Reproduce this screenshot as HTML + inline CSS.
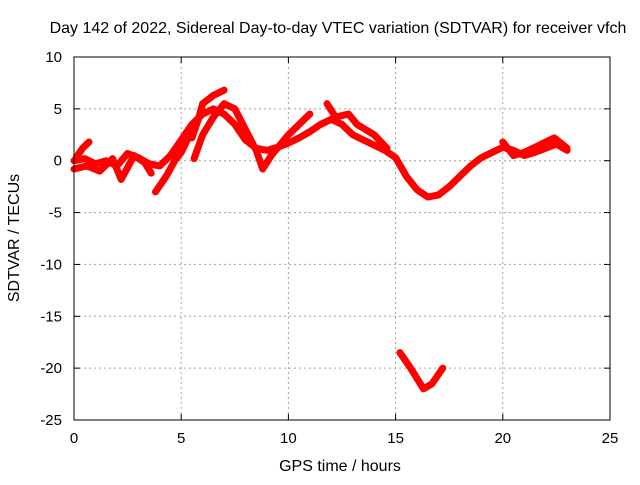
<!DOCTYPE html>
<html><head><meta charset="utf-8"><style>
body{margin:0;background:#fff}
svg text{font-family:"Liberation Sans",sans-serif;font-size:16px;fill:#000}
svg text.tick{font-size:15px}
</style></head><body>
<svg id="chart" width="640" height="480" xmlns="http://www.w3.org/2000/svg">
<text x="338" y="33" text-anchor="middle">Day 142 of 2022, Sidereal Day-to-day VTEC variation (SDTVAR) for receiver vfch</text>
<text x="340" y="471" text-anchor="middle">GPS time / hours</text>
<text transform="translate(19,238) rotate(-90)" text-anchor="middle">SDTVAR / TECUs</text>
<g id="grid"></g><g id="ticks"></g><g id="series"></g>
<rect x="74" y="57" width="536" height="363" fill="none" stroke="#000" stroke-width="1"/>
</svg>
<script>
const xTicks=[0,5,10,15,20,25];
const yTicks=[10,5,0,-5,-10,-15,-20,-25];
const traceMain=[[0,0],[0.5,0.2],[1,-0.3],[1.5,0],[2,-0.5],[2.5,0.7],[3,0.3],[3.5,-0.3],[4,-0.5],[4.5,0.5],[5,2],[5.5,3.5],[6,4.5],[6.5,5],[7,4.5],[7.5,3.5],[8,2],[8.5,1.2],[9,1],[9.5,1.3],[10,1.7],[10.5,2.2],[11,2.8],[11.5,3.5],[12,4],[12.5,3.5],[13,2.5],[13.5,2],[14,1.5],[14.5,1],[15,0.3],[15.5,-1.5],[16,-2.8],[16.5,-3.5],[17,-3.3],[17.5,-2.5],[18,-1.5],[18.5,-0.5],[19,0.3],[19.5,0.8],[20,1.3],[20.5,1],[21,0.5],[21.5,0.8],[22,1.2],[22.5,1.6],[23,1]];
const traceUpper=[[0.1,0.3],[0.4,1.2],[0.7,1.8]];
const traceLow=[[0,-0.8],[0.6,-0.5],[1.2,-1],[1.8,0.2],[2.2,-1.8],[2.8,0.5],[3.3,-0.2],[3.6,-1.2]];
const tracePeak=[[5.5,2.2],[5.8,4],[6,5.5],[6.5,6.3],[7,6.8]];
const traceMid=[[5.6,0.2],[6,2.5],[6.5,4.2],[7,5.5],[7.5,5],[8,3],[8.5,1],[8.8,-0.8],[9.2,0.5],[10,2.5],[10.5,3.5],[11,4.5]];
const traceRise=[[3.8,-3],[4.3,-1.5],[4.7,0],[5,0.8],[5.4,2.5]];
const traceNoon=[[11.8,5.5],[12.2,4.2],[12.8,4.5],[13.2,3.5],[14,2.5],[14.6,1.2]];
const traceEve=[[20,1.8],[20.5,0.5],[21,0.8],[21.5,1.3],[22,1.8],[22.4,2.2],[23,1.2]];
const traceDip=[[15.2,-18.5],[15.7,-20],[16.3,-22],[16.7,-21.5],[17.2,-20]];
const traces=[traceMain,traceUpper,traceLow,tracePeak,traceMid,traceRise,traceNoon,traceEve,traceDip];
const X=h=>74+h*536/25, Y=v=>57+(10-v)*363/35;
const NS="http://www.w3.org/2000/svg";
const grid=document.getElementById('grid'),tk=document.getElementById('ticks'),sr=document.getElementById('series');
function mk(tag,attrs,parent){const e=document.createElementNS(NS,tag);for(const k in attrs)e.setAttribute(k,attrs[k]);parent.appendChild(e);return e;}
xTicks.forEach(t=>{const x=X(t);
 if(t>0&&t<25){const l=mk('line',{x1:x,x2:x,y1:57,y2:420,stroke:'#a0a0a0','stroke-dasharray':'2,3'},grid);
 
 }
 mk('line',{x1:x,x2:x,y1:420,y2:414,stroke:'#000'},tk);mk('line',{x1:x,x2:x,y1:57,y2:63,stroke:'#000'},tk);
 const s=mk('text',{x:x,y:443,'text-anchor':'middle','class':'tick'},tk);s.textContent=t;
 
 });
yTicks.forEach(t=>{const y=Y(t);
 if(t<10&&t>-25){const l=mk('line',{x1:74,x2:610,y1:y,y2:y,stroke:'#a0a0a0','stroke-dasharray':'2,3'},grid);
 
 }
 mk('line',{x1:74,x2:80,y1:y,y2:y,stroke:'#000'},tk);mk('line',{x1:610,x2:604,y1:y,y2:y,stroke:'#000'},tk);
 const s=mk('text',{x:62,y:y+5,'text-anchor':'end','class':'tick'},tk);s.textContent=t;
 
 });
traces.forEach(tr=>{const p=mk('polyline',{points:tr.map(d=>X(d[0])+','+Y(d[1])).join(' '),fill:'none',stroke:'#ff0000','stroke-width':7,'stroke-linejoin':'round','stroke-linecap':'round'},sr);
 
 });
</script>
</body></html>
